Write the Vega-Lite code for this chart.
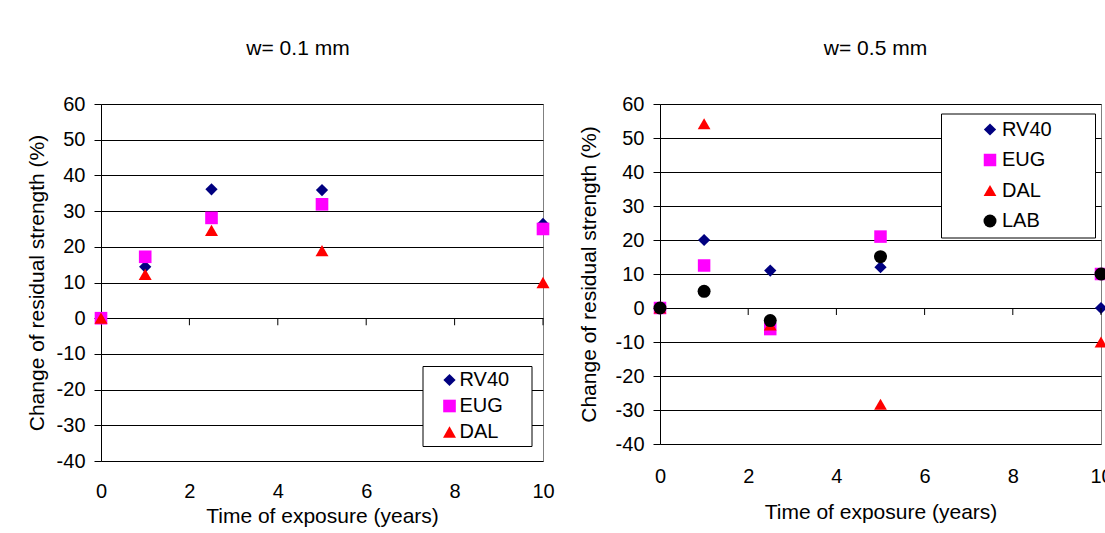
{
  "$schema": "https://vega.github.io/schema/vega-lite/v6.json",
  "background": "white",
  "padding": {"left": 25, "top": 37, "right": 0, "bottom": 0},
  "bounds": "flush",
  "spacing": 117,
  "datasets": {
    "w01": [
      {"series": "RV40", "years": 0, "change": 0},
      {"series": "RV40", "years": 1, "change": 14.4},
      {"series": "RV40", "years": 2.5, "change": 36.1},
      {"series": "RV40", "years": 5, "change": 35.9},
      {"series": "RV40", "years": 10, "change": 26.4},
      {"series": "EUG", "years": 0, "change": 0},
      {"series": "EUG", "years": 1, "change": 17.2},
      {"series": "EUG", "years": 2.5, "change": 28.1},
      {"series": "EUG", "years": 5, "change": 31.9},
      {"series": "EUG", "years": 10, "change": 25},
      {"series": "DAL", "years": 0, "change": 0},
      {"series": "DAL", "years": 1, "change": 12.3},
      {"series": "DAL", "years": 2.5, "change": 24.6},
      {"series": "DAL", "years": 5, "change": 18.9},
      {"series": "DAL", "years": 10, "change": 10}
    ],
    "w05": [
      {"series": "RV40", "years": 0, "change": 0},
      {"series": "RV40", "years": 1, "change": 20},
      {"series": "RV40", "years": 2.5, "change": 11},
      {"series": "RV40", "years": 5, "change": 12},
      {"series": "RV40", "years": 10, "change": 0},
      {"series": "EUG", "years": 0, "change": 0},
      {"series": "EUG", "years": 1, "change": 12.5},
      {"series": "EUG", "years": 2.5, "change": -6.2},
      {"series": "EUG", "years": 5, "change": 21},
      {"series": "EUG", "years": 10, "change": 10},
      {"series": "DAL", "years": 0, "change": 0},
      {"series": "DAL", "years": 1, "change": 54.2},
      {"series": "DAL", "years": 2.5, "change": -5},
      {"series": "DAL", "years": 5, "change": -28.3},
      {"series": "DAL", "years": 10, "change": -10},
      {"series": "LAB", "years": 0, "change": 0},
      {"series": "LAB", "years": 1, "change": 4.9},
      {"series": "LAB", "years": 2.5, "change": -3.7},
      {"series": "LAB", "years": 5, "change": 15.1},
      {"series": "LAB", "years": 10, "change": 10}
    ],
    "xticks": [{"years": 2}, {"years": 4}, {"years": 6}, {"years": 8}, {"years": 10}]
  },
  "resolve": {
    "scale": {"color": "independent", "shape": "independent", "size": "independent"},
    "legend": {"color": "independent", "shape": "independent", "size": "independent"}
  },
  "hconcat": [
    {
      "width": 442,
      "height": 357,
      "title": {"text": "w= 0.1 mm", "offset": 18, "baseline": "alphabetic", "dx": -24},
      "layer": [
        {
          "data": {"name": "w01"},
          "mark": {"type": "point", "filled": true, "opacity": 1, "strokeWidth": 0},
          "encoding": {
            "x": {
              "field": "years", "type": "quantitative",
              "scale": {"domain": [0, 10], "nice": false, "zero": false},
              "axis": {"orient": "bottom", "values": [0, 2, 4, 6, 8, 10], "domain": false, "ticks": false, "grid": false, "labelFlush": false, "labelOverlap": false, "labelPadding": 20, "titlePadding": 4, "title": "Time of exposure (years)", "labelExpr": "'' + datum.value"}
            },
            "y": {
              "field": "change", "type": "quantitative",
              "scale": {"domain": [-40, 60], "nice": false},
              "axis": {"values": [-40, -30, -20, -10, 0, 10, 20, 30, 40, 50, 60], "grid": true, "tickSize": 7, "labelPadding": 9, "titlePadding": 9, "labelFlush": false, "labelOverlap": false, "title": "Change of residual strength (%)", "labelExpr": "'' + datum.value"}
            },
            "color": {
              "field": "series", "type": "nominal",
              "scale": {"domain": ["RV40", "EUG", "DAL"], "range": ["#000080", "#FF00FF", "#FF0000"]},
              "legend": {"orient": "none", "legendX": 321.5, "legendY": 262, "title": "\u00a0", "titleOrient": "right", "titlePadding": 18, "padding": 4, "rowPadding": 6, "symbolOffset": 13, "labelOffset": 0}
            },
            "shape": {
              "field": "series", "type": "nominal",
              "scale": {"domain": ["RV40", "EUG", "DAL"], "range": ["diamond", "square", "triangle-up"]},
              "legend": {"orient": "none", "legendX": 321.5, "legendY": 262, "title": "\u00a0", "titleOrient": "right", "titlePadding": 18, "padding": 4, "rowPadding": 6, "symbolOffset": 13, "labelOffset": 0}
            },
            "size": {
              "field": "series", "type": "nominal",
              "scale": {"domain": ["RV40", "EUG", "DAL"], "range": [150, 169, 180]},
              "legend": {"orient": "none", "legendX": 321.5, "legendY": 262, "title": "\u00a0", "titleOrient": "right", "titlePadding": 18, "padding": 4, "rowPadding": 6, "symbolOffset": 13, "labelOffset": 0}
            }
          }
        },
        {
          "data": {"name": "xticks"},
          "mark": {"type": "tick", "orient": "vertical", "size": 7, "thickness": 1, "color": "#000000", "opacity": 1, "yOffset": 3.5},
          "encoding": {
            "x": {
              "field": "years", "type": "quantitative",
              "axis": {"orient": "bottom", "values": [0, 2, 4, 6, 8, 10], "domain": false, "ticks": false, "grid": false, "labelFlush": false, "labelOverlap": false, "labelPadding": 20, "titlePadding": 4, "title": "Time of exposure (years)", "labelExpr": "'' + datum.value"}
            },
            "y": {
              "datum": 0, "type": "quantitative",
              "axis": {"values": [-40, -30, -20, -10, 0, 10, 20, 30, 40, 50, 60], "grid": true, "tickSize": 7, "labelPadding": 9, "titlePadding": 9, "labelFlush": false, "labelOverlap": false, "title": "Change of residual strength (%)", "labelExpr": "'' + datum.value"}
            }
          }
        }
      ]
    },
    {
      "width": 441,
      "height": 340,
      "title": {"text": "w= 0.5 mm", "offset": 18, "baseline": "alphabetic", "dx": -5},
      "layer": [
        {
          "data": {"name": "w05"},
          "mark": {"type": "point", "filled": true, "opacity": 1, "strokeWidth": 0},
          "encoding": {
            "x": {
              "field": "years", "type": "quantitative",
              "scale": {"domain": [0, 10], "nice": false, "zero": false},
              "axis": {"orient": "bottom", "values": [0, 2, 4, 6, 8, 10], "domain": false, "ticks": false, "grid": false, "labelFlush": false, "labelOverlap": false, "labelPadding": 22, "titlePadding": 15, "title": "Time of exposure (years)", "labelExpr": "'' + datum.value"}
            },
            "y": {
              "field": "change", "type": "quantitative",
              "scale": {"domain": [-40, 60], "nice": false},
              "axis": {"values": [-40, -30, -20, -10, 0, 10, 20, 30, 40, 50, 60], "grid": true, "tickSize": 7, "labelPadding": 9, "titlePadding": 16, "labelFlush": false, "labelOverlap": false, "title": "Change of residual strength (%)", "labelExpr": "'' + datum.value"}
            },
            "color": {
              "field": "series", "type": "nominal",
              "scale": {"domain": ["RV40", "EUG", "DAL", "LAB"], "range": ["#000080", "#FF00FF", "#FF0000", "#000000"]},
              "legend": {"orient": "none", "legendX": 281, "legendY": 9.5, "title": "\u00a0", "titleOrient": "right", "titlePadding": 37, "padding": 6, "rowPadding": 10.5, "symbolOffset": 33, "labelOffset": 2}
            },
            "shape": {
              "field": "series", "type": "nominal",
              "scale": {"domain": ["RV40", "EUG", "DAL", "LAB"], "range": ["diamond", "square", "triangle-up", "circle"]},
              "legend": {"orient": "none", "legendX": 281, "legendY": 9.5, "title": "\u00a0", "titleOrient": "right", "titlePadding": 37, "padding": 6, "rowPadding": 10.5, "symbolOffset": 33, "labelOffset": 2}
            },
            "size": {
              "field": "series", "type": "nominal",
              "scale": {"domain": ["RV40", "EUG", "DAL", "LAB"], "range": [150, 169, 180, 177]},
              "legend": {"orient": "none", "legendX": 281, "legendY": 9.5, "title": "\u00a0", "titleOrient": "right", "titlePadding": 37, "padding": 6, "rowPadding": 10.5, "symbolOffset": 33, "labelOffset": 2}
            }
          }
        },
        {
          "data": {"name": "xticks"},
          "mark": {"type": "tick", "orient": "vertical", "size": 7, "thickness": 1, "color": "#000000", "opacity": 1, "yOffset": 3.5},
          "encoding": {
            "x": {
              "field": "years", "type": "quantitative",
              "axis": {"orient": "bottom", "values": [0, 2, 4, 6, 8, 10], "domain": false, "ticks": false, "grid": false, "labelFlush": false, "labelOverlap": false, "labelPadding": 22, "titlePadding": 15, "title": "Time of exposure (years)", "labelExpr": "'' + datum.value"}
            },
            "y": {
              "datum": 0, "type": "quantitative",
              "axis": {"values": [-40, -30, -20, -10, 0, 10, 20, 30, 40, 50, 60], "grid": true, "tickSize": 7, "labelPadding": 9, "titlePadding": 16, "labelFlush": false, "labelOverlap": false, "title": "Change of residual strength (%)", "labelExpr": "'' + datum.value"}
            }
          }
        }
      ]
    }
  ],
  "config": {
    "font": "Liberation Sans",
    "view": {"stroke": "#808080", "strokeWidth": 1},
    "axis": {
      "labelFont": "Liberation Sans", "labelFontSize": 20, "labelColor": "#000000",
      "titleFont": "Liberation Sans", "titleFontSize": 21, "titleFontWeight": "normal", "titleColor": "#000000",
      "domainColor": "#000000", "domainWidth": 1, "tickColor": "#000000", "tickWidth": 1,
      "gridColor": "#000000", "gridOpacity": 1, "gridWidth": 1
    },
    "legend": {
      "labelFont": "Liberation Sans", "labelFontSize": 20, "labelColor": "#000000",
      "titleFont": "Liberation Sans", "titleFontSize": 20, "titleFontWeight": "normal",
      "strokeColor": "#000000", "strokeWidth": 1, "fillColor": "#ffffff"
    },
    "title": {"font": "Liberation Sans", "fontSize": 21, "fontWeight": "normal", "color": "#000000"}
  }
}
